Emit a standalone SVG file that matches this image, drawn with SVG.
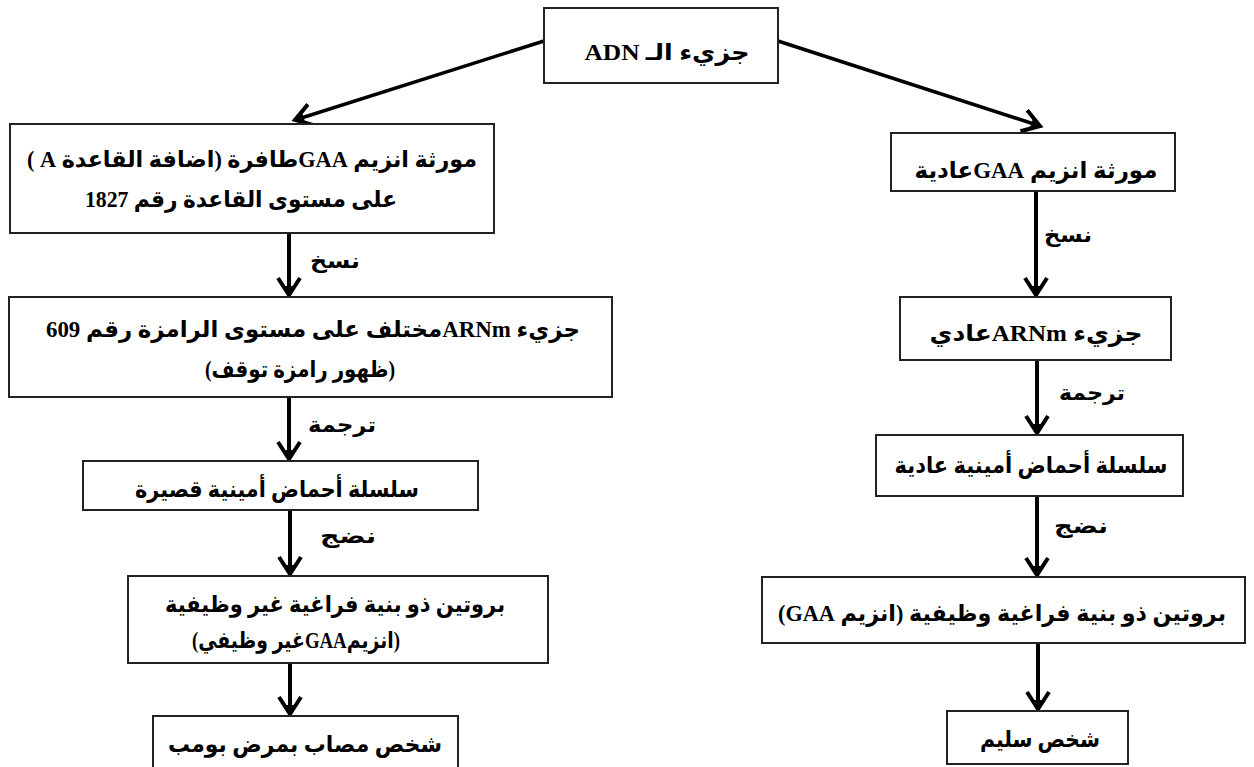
<svg xmlns="http://www.w3.org/2000/svg" width="1254" height="767" viewBox="0 0 1254 767">
<style>
.box{fill:#fff;stroke:#222;stroke-width:2}
.t{font-family:"Liberation Serif","DejaVu Sans",serif;font-weight:bold;font-size:23px;fill:#000;text-anchor:middle;direction:rtl;unicode-bidi:embed}
.lbl{font-family:"Liberation Serif","DejaVu Sans",serif;font-weight:bold;font-size:21px;fill:#000;text-anchor:middle;direction:rtl}
.c{stroke:#000;stroke-width:4;fill:none}
.d{stroke:#000;stroke-width:3.5;fill:none}
</style>
<defs>
<marker id="ah" markerUnits="userSpaceOnUse" viewBox="-22 -14 26 28" markerWidth="26" markerHeight="28" refX="0" refY="0" orient="auto">
<path d="M-17,-11 L0,0 L-17,11" fill="none" stroke="#000" stroke-width="4"/>
<path d="M-9,-6 L2,0 L-9,6 Z" fill="#000"/>
</marker>
</defs>
<rect width="1254" height="767" fill="#fff"/>
<g id="connectors">
<line class="d" x1="544" y1="41" x2="295" y2="120" marker-end="url(#ah)"/>
<line class="d" x1="778" y1="41" x2="1040" y2="126" marker-end="url(#ah)"/>
<line class="c" x1="289" y1="233" x2="289" y2="295" marker-end="url(#ah)"/>
<line class="c" x1="289" y1="397" x2="289" y2="459" marker-end="url(#ah)"/>
<line class="c" x1="290" y1="510" x2="290" y2="574" marker-end="url(#ah)"/>
<line class="c" x1="290" y1="663" x2="290" y2="714" marker-end="url(#ah)"/>
<line class="c" x1="1036" y1="192" x2="1036" y2="295" marker-end="url(#ah)"/>
<line class="c" x1="1037" y1="360" x2="1037" y2="433" marker-end="url(#ah)"/>
<line class="c" x1="1037" y1="496" x2="1037" y2="575" marker-end="url(#ah)"/>
<line class="c" x1="1038" y1="643" x2="1038" y2="709" marker-end="url(#ah)"/>
<text class="lbl" x="335" y="268" textLength="50" lengthAdjust="spacingAndGlyphs">نسخ</text>
<text class="lbl" x="1068" y="242" textLength="48" lengthAdjust="spacingAndGlyphs">نسخ</text>
<text class="lbl" x="342" y="432" textLength="68" lengthAdjust="spacingAndGlyphs">ترجمة</text>
<text class="lbl" x="1092" y="400" textLength="66" lengthAdjust="spacingAndGlyphs">ترجمة</text>
<text class="lbl" x="348" y="543" textLength="56" lengthAdjust="spacingAndGlyphs">نضج</text>
<text class="lbl" x="1081" y="533" textLength="54" lengthAdjust="spacingAndGlyphs">نضج</text>
</g>
<g id="n-adn">
<rect class="box" x="544" y="8" width="234" height="75"/>
<text class="t" x="667" y="60" textLength="165" lengthAdjust="spacingAndGlyphs">جزيء الـ ADN</text>
</g>
<g id="n-l1">
<rect class="box" x="10" y="124" width="484" height="109"/>
<text class="t" x="252" y="167" textLength="450" lengthAdjust="spacingAndGlyphs">مورثة انزيم GAAطافرة (اضافة القاعدة  A )</text>
<text class="t" x="241" y="207" textLength="312" lengthAdjust="spacingAndGlyphs">على مستوى القاعدة رقم 1827</text>
</g>
<g id="n-l2">
<rect class="box" x="9" y="297" width="603" height="100"/>
<text class="t" x="313" y="337" textLength="534" lengthAdjust="spacingAndGlyphs">جزيء ARNmمختلف على مستوى الرامزة رقم 609</text>
<text class="t" x="300" y="377" textLength="190" lengthAdjust="spacingAndGlyphs">(ظهور رامزة توقف)</text>
</g>
<g id="n-l3">
<rect class="box" x="83" y="461" width="395" height="49"/>
<text class="t" x="277" y="497" textLength="284" lengthAdjust="spacingAndGlyphs">سلسلة أحماض أمينية قصيرة</text>
</g>
<g id="n-l4">
<rect class="box" x="128" y="576" width="420" height="87"/>
<text class="t" x="335" y="612" textLength="340" lengthAdjust="spacingAndGlyphs">بروتين ذو بنية فراغية غير وظيفية</text>
<text class="t" x="296" y="648" textLength="208" lengthAdjust="spacingAndGlyphs">(انزيمGAAغير وظيفي)</text>
</g>
<g id="n-l5">
<rect class="box" x="153" y="716" width="305" height="56"/>
<text class="t" x="305" y="752" textLength="274" lengthAdjust="spacingAndGlyphs">شخص مصاب بمرض بومب</text>
</g>
<g id="n-r1">
<rect class="box" x="891" y="133" width="284" height="58"/>
<text class="t" x="1036" y="178" textLength="243" lengthAdjust="spacingAndGlyphs">مورثة انزيم GAAعادية</text>
</g>
<g id="n-r2">
<rect class="box" x="900" y="297" width="271" height="63"/>
<text class="t" x="1036" y="341" textLength="213" lengthAdjust="spacingAndGlyphs">جزيء ARNmعادي</text>
</g>
<g id="n-r3">
<rect class="box" x="876" y="435" width="307" height="61"/>
<text class="t" x="1031" y="473" textLength="273" lengthAdjust="spacingAndGlyphs">سلسلة أحماض أمينية عادية</text>
</g>
<g id="n-r4">
<rect class="box" x="762" y="577" width="483" height="66"/>
<text class="t" x="1002" y="621" textLength="448" lengthAdjust="spacingAndGlyphs">بروتين ذو بنية فراغية وظيفية (انزيم GAA)</text>
</g>
<g id="n-r5">
<rect class="box" x="947" y="711" width="181" height="53"/>
<text class="t" x="1040" y="747" textLength="120" lengthAdjust="spacingAndGlyphs">شخص سليم</text>
</g>
</svg>
